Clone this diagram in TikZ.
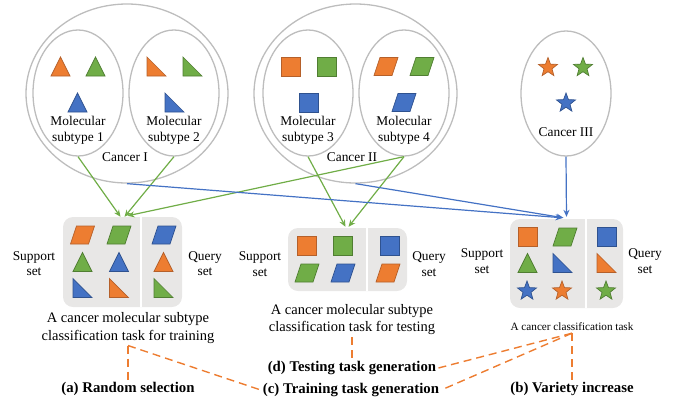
\documentclass[tikz,border=0pt]{standalone}
\usepackage{fontspec}
\setmainfont{Liberation Serif}
\usetikzlibrary{shapes.geometric,arrows.meta}
\definecolor{shorange}{HTML}{ED7D31}
\definecolor{shorangeD}{HTML}{B5602A}
\definecolor{shgreen}{HTML}{70AD47}
\definecolor{shgreenD}{HTML}{507E32}
\definecolor{shblue}{HTML}{4472C4}
\definecolor{shblueD}{HTML}{2F528F}
\definecolor{ellgray}{HTML}{BDBDBD}
\definecolor{boxgray}{HTML}{E8E7E6}
\newcommand{\shtri}[3]{\draw[#3,shift={(#1,#2)}] (-9.5,9.5) -- (9.5,9.5) -- (0,-9.5) -- cycle;}
\newcommand{\shrtri}[3]{\draw[#3,shift={(#1,#2)}] (-9.5,-9.5) -- (-9.5,9.5) -- (9.5,9.5) -- cycle;}
\newcommand{\shsq}[3]{\draw[#3,shift={(#1,#2)}] (-9.5,-9.5) rectangle (9.5,9.5);}
\newcommand{\shpar}[3]{\draw[#3,shift={(#1,#2)}] (-12,9) -- (6,9) -- (12,-9) -- (-6,-9) -- cycle;}
\newcommand{\shstar}[3]{\draw[#3,shift={(#1,#2)}] (-90:10) \foreach \k in {0,...,4} {-- ({-54+72*\k}:4.2) -- ({-18+72*\k}:10)} -- cycle;}
\tikzset{
	ora/.style={fill=shorange,draw=shorangeD,line width=0.7pt},
	gre/.style={fill=shgreen,draw=shgreenD,line width=0.7pt},
	blu/.style={fill=shblue,draw=shblueD,line width=0.7pt},
	ell/.style={ellipse,draw=ellgray,line width=1.3pt,inner sep=0pt},
	taskbox/.style={fill=boxgray,rounded corners=10pt,inner sep=0pt},
	txt/.style={font=\fontsize{13.4}{15.5}\selectfont,align=center,inner sep=1pt},
	captxt/.style={font=\fontsize{14.5}{17.5}\selectfont,align=center,inner sep=2pt},
	smalltxt/.style={font=\fontsize{11.2}{13}\selectfont,align=center,inner sep=2pt},
	boldtxt/.style={font=\fontsize{14.8}{17}\selectfont\bfseries,inner sep=2pt},
	grarrow/.style={draw=shgreen,line width=1.2pt,-{Stealth[length=7pt,width=6pt]}},
	blarrow/.style={draw=shblue,line width=1.2pt,-{Stealth[length=7pt,width=6pt]}},
	dashline/.style={draw=shorange,line width=1.4pt,dash pattern=on 8pt off 5pt}
}
\begin{document}
\begin{tikzpicture}[x=1pt,y=-1pt]
			\useasboundingbox (0,0) rectangle (677,405);

			\node[ell,minimum width=202pt,minimum height=179pt] (canI) at (127,93.5) {};
			\node[ell,minimum width=90pt,minimum height=126pt] (sub1) at (78,93) {};
			\node[ell,minimum width=90pt,minimum height=126pt] (sub2) at (174,93) {};
			\node[ell,minimum width=203pt,minimum height=179pt] (canII) at (355.5,93.5) {};
			\node[ell,minimum width=90pt,minimum height=126pt] (sub3) at (308,93) {};
			\node[ell,minimum width=90pt,minimum height=126pt] (sub4) at (404,93) {};
			\node[ell,minimum width=90pt,minimum height=125pt] (canIII) at (566,93.5) {};

			\node[txt] (sub1txt) at (78,130.5) {Molecular\\subtype 1};
			\node[txt] (sub2txt) at (174,130.5) {Molecular\\subtype 2};
			\node[txt] (sub3txt) at (308,130.5) {Molecular\\subtype 3};
			\node[txt] (sub4txt) at (404,130.5) {Molecular\\subtype 4};
			\node[txt] (canItxt) at (125,157) {Cancer I};
			\node[txt] (canIItxt) at (352,157) {Cancer II};
			\node[txt] (canIIItxt) at (566,132) {Cancer III};

			\foreach \x/\y/\c in {60.5/66.5/ora,95.5/66.5/gre,77.5/102.5/blu}
			{\shtri{\x}{\y}{\c}}
			\foreach \x/\y/\c in {156.5/66.5/ora,192.5/66.5/gre,174.5/102.5/blu}
			{\shrtri{\x}{\y}{\c}}
			\foreach \x/\y/\c in {290.5/66.5/ora,326.5/66.5/gre,308.5/102.5/blu}
			{\shsq{\x}{\y}{\c}}
			\foreach \x/\y/\c in {386/66.5/ora,422/66.5/gre,404/102.5/blu}
			{\shpar{\x}{\y}{\c}}
			\foreach \x/\y/\c in {548/67.5/ora,583/67.5/gre,566/103/blu}
			{\shstar{\x}{\y}{\c}}

			\node[taskbox,minimum width=119pt,minimum height=90pt] (task1) at (122.5,262) {};
			\node[taskbox,minimum width=119pt,minimum height=63pt] (task2) at (347.5,259.5) {};
			\node[taskbox,minimum width=113pt,minimum height=89pt] (task3) at (566.5,263.5) {};
			\draw[white,line width=1.5pt] (141,217) -- (141,307);
			\draw[white,line width=1.5pt] (367,228) -- (367,291);
			\draw[white,line width=1.5pt] (586,219) -- (586,308);

			\foreach \x/\c in {82.5/ora,119/gre,164/blu}
			{\shpar{\x}{235}{\c}}
			\foreach \x/\c in {82.5/gre,119/blu,163.5/ora}
			{\shtri{\x}{262}{\c}}
			\foreach \x/\c in {82.5/blu,119/ora,163.5/gre}
			{\shrtri{\x}{288}{\c}}

			\foreach \x/\c in {307/ora,343/gre,389.5/blu}
			{\shsq{\x}{246}{\c}}
			\foreach \x/\c in {307/gre,343/blu,388/ora}
			{\shpar{\x}{273}{\c}}

			\shsq{527.5}{237}{ora}
			\shpar{565}{237}{gre}
			\shsq{606.5}{237}{blu}
			\shtri{527.5}{263}{gre}
			\shrtri{562.5}{263}{blu}
			\shrtri{606.5}{263}{ora}
			\foreach \x/\c in {527/blu,562/ora,606/gre}
			{\shstar{\x}{291}{\c}}

			\node[txt] (sup1) at (34,263.5) {Support\\set};
			\node[txt] (qry1) at (205,263.5) {Query\\set};
			\node[txt] (sup2) at (260,264) {Support\\set};
			\node[txt] (qry2) at (429,264) {Query\\set};
			\node[txt] (sup3) at (482,261) {Support\\set};
			\node[txt] (qry3) at (645,261) {Query\\set};

			\node[captxt] (capA) at (128,328) {A cancer molecular subtype\\classification task for training};
			\node[captxt] (capB) at (352,319.5) {A cancer molecular subtype\\classification task for testing};
			\node[smalltxt] (capC) at (572,327) {A cancer classification task};

			\node[boldtxt] (labA) at (128,389) {(a) Random selection};
			\node[boldtxt] (labB) at (572,389) {(b) Variety increase};
			\node[boldtxt] (labC) at (351,390) {(c) Training task generation};
			\node[boldtxt] (labD) at (352,368) {(d) Testing task generation};

			\draw[grarrow] (sub1.south) -- ([xshift=-2pt]task1.north);
			\draw[grarrow] (sub2.south) -- ([xshift=2pt]task1.north);
			\draw[grarrow] (sub4.south) -- ([xshift=5pt,yshift=1pt]task1.north);
			\draw[grarrow] (sub3.south) -- ([xshift=-2pt,yshift=1pt]task2.north);
			\draw[grarrow] (sub4.south) -- ([xshift=1pt,yshift=1pt]task2.north);
			\draw[blarrow] (canI.south) -- ([xshift=-4pt,yshift=1pt]task3.north);
			\draw[blarrow] (canII.south) -- ([xshift=-3pt,yshift=1pt]task3.north);
			\draw[blarrow] (canIII.south) -- ([yshift=2pt]task3.north);

			\draw[dashline] (capA.south) -- (labA.north);
			\draw[dashline] (capA.south) -- (labC.west);
			\draw[dashline] (capB.south) -- (labD.north);
			\draw[dashline] (capC.south) -- (labB.north);
			\draw[dashline] (capC.south) -- (labD.east);
			\draw[dashline] (capC.south) -- (labC.east);
		\end{tikzpicture}
\end{document}
